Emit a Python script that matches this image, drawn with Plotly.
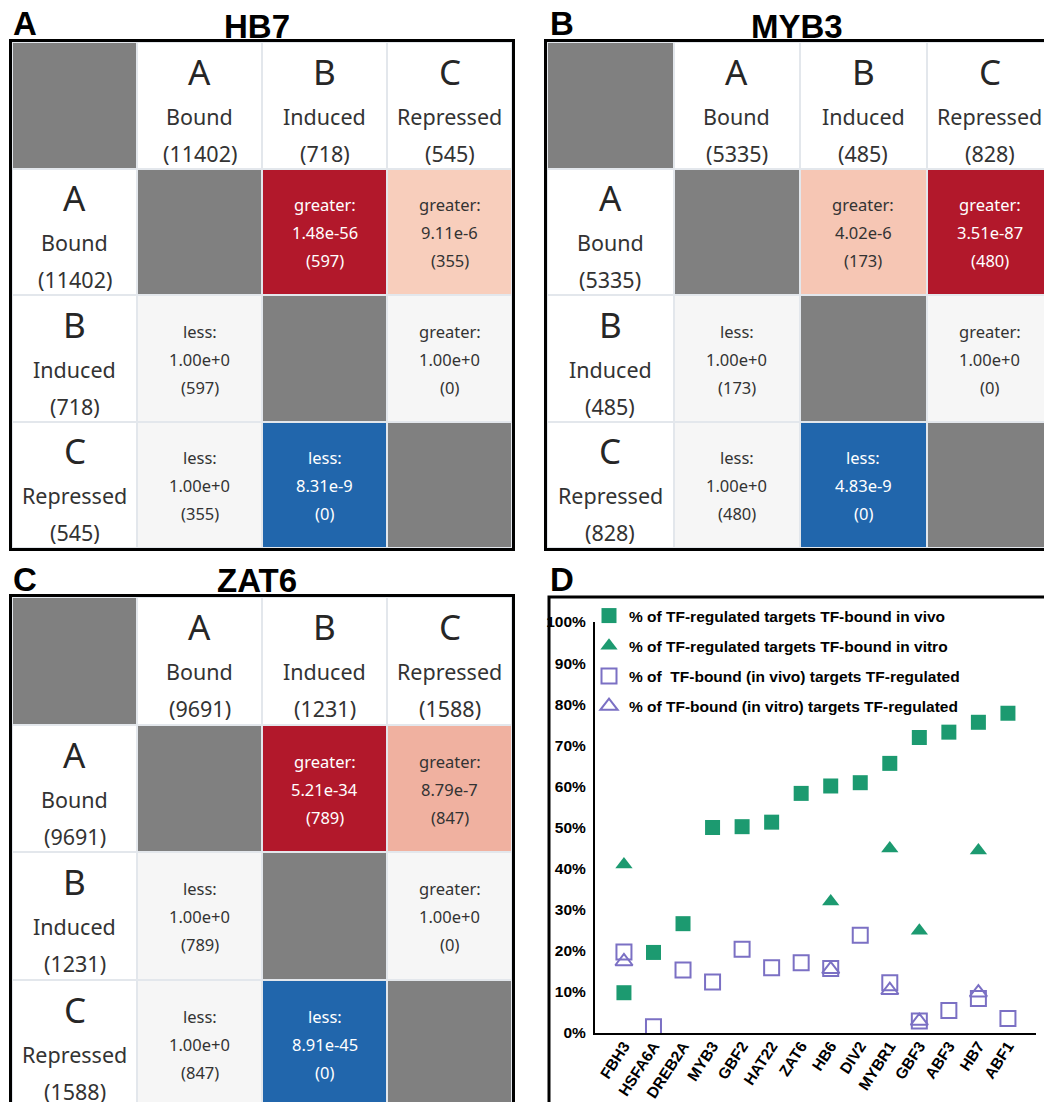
import math
import plotly.graph_objects as go

# ---------------- data: panels A-C (pairwise overlap tests) ----------------
row_letters = ["A", "B", "C"]
row_names = ["Bound", "Induced", "Repressed"]
tests = [["", "greater", "greater"],
         ["less", "", "greater"],
         ["less", "less", ""]]

hb7_counts = [11402, 718, 545]
hb7_pvals = [[None, 1.48e-56, 9.11e-6],
             [1.00e+0, None, 1.00e+0],
             [1.00e+0, 8.31e-9, None]]
hb7_overlap = [[None, 597, 355], [597, None, 0], [355, 0, None]]

myb3_counts = [5335, 485, 828]
myb3_pvals = [[None, 4.02e-6, 3.51e-87],
              [1.00e+0, None, 1.00e+0],
              [1.00e+0, 4.83e-9, None]]
myb3_overlap = [[None, 173, 480], [173, None, 0], [480, 0, None]]

zat6_counts = [9691, 1231, 1588]
zat6_pvals = [[None, 5.21e-34, 8.79e-7],
              [1.00e+0, None, 1.00e+0],
              [1.00e+0, 8.91e-45, None]]
zat6_overlap = [[None, 789, 847], [789, None, 0], [847, 0, None]]

# ---------------- data: panel D ----------------
tf_names = ["FBH3", "HSFA6A", "DREB2A", "MYB3", "GBF2", "HAT22", "ZAT6", "HB6",
            "DIV2", "MYBR1", "GBF3", "ABF3", "HB7", "ABF1"]
reg_bound_vivo = [9.8, 19.6, 26.6, 50.0, 50.2, 51.3, 58.3, 60.1, 60.9, 65.6, 71.9, 73.2, 75.6, 77.8]
reg_bound_vitro = [41.0, None, None, None, None, None, None, 32.0, None, 44.9, 24.9, None, 44.4, None]
bound_vivo_reg = [19.7, 1.5, 15.3, 12.4, 20.4, 15.9, 17.1, 15.7, 23.8, 12.2, 2.9, 5.5, 8.4, 3.5]
bound_vitro_reg = [17.4, None, None, None, None, None, None, 15.5, None, 10.4, 2.9, None, 9.8, None]

pct_ticks = [0, 10, 20, 30, 40, 50, 60, 70, 80, 90, 100]
pct_labels = ["0%", "10%", "20%", "30%", "40%", "50%", "60%", "70%", "80%", "90%", "100%"]

series_names = ["% of TF-regulated targets TF-bound in vivo",
                "% of TF-regulated targets TF-bound in vitro",
                "% of  TF-bound (in vivo) targets TF-regulated",
                "% of TF-bound (in vitro) targets TF-regulated"]

GREEN = "#1c9a70"
PURPLE = "#7b70c4"
CELL_FONT = "Noto Sans, Open Sans, sans-serif"
NARROW = "Liberation Sans Narrow, Arial Narrow, Liberation Sans, Arial, sans-serif"
BOLD_FONT = "Liberation Sans, Arial, sans-serif"

W, H = 1044, 1102


def fmt_p(p):
    m, e = f"{p:.2e}".split("e")
    ex = int(e)
    return f"{m}e{'+' if ex >= 0 else '-'}{abs(ex)}"


def px_x(px):
    return px / W


def px_y(py):
    return 1 - py / H


fig = go.Figure()
annotations = []

colorscale = [[0.0, "#2166ac"], [0.12, "#2166ac"], [0.5, "#f6f6f6"],
              [0.74, "#f9d3c1"], [0.80, "#f3b9a6"], [0.86, "#b2182b"], [1.0, "#b2182b"]]

panels = [
    ("x", "y", hb7_counts, hb7_pvals, hb7_overlap),
    ("x2", "y2", myb3_counts, myb3_pvals, myb3_overlap),
    ("x3", "y3", zat6_counts, zat6_pvals, zat6_overlap),
]

idx = [0, 1, 2, 3]
for xa, ya, counts, pvals, overlap in panels:
    frame = [[None] * 4 for _ in range(4)]
    data = [[None] * 4 for _ in range(4)]
    for r in range(4):
        for c in range(4):
            if r == 0 and c == 0:
                frame[r][c] = 0
            elif r == 0 or c == 0:
                frame[r][c] = 1
            elif r == c:
                frame[r][c] = 0
    for i in range(3):
        for j in range(3):
            if i == j:
                continue
            p = pvals[i][j]
            sgn = 1 if tests[i][j] == "greater" else -1
            score = 0.0 if p >= 1 else sgn * (-math.log10(p))
            data[i + 1][j + 1] = score
    fig.add_trace(go.Heatmap(z=frame, x=idx, y=idx, xaxis=xa, yaxis=ya,
                             colorscale=[[0, "#808080"], [1, "#ffffff"]], zmin=0, zmax=1,
                             showscale=False, xgap=2, ygap=2, hoverinfo="skip"))
    fig.add_trace(go.Heatmap(z=data, x=idx, y=idx, xaxis=xa, yaxis=ya,
                             colorscale=colorscale, zmin=-10, zmax=10,
                             showscale=False, xgap=2, ygap=2, hoverinfo="skip"))

    # header row / column texts
    for k in range(3):
        for (xx, yy) in [(k + 1, 0), (0, k + 1)]:
            annotations.append(dict(x=xx, y=yy, xref=xa, yref=ya, text=row_letters[k],
                                    showarrow=False, yshift=34,
                                    font=dict(family=CELL_FONT, size=35, color="#262626")))
            annotations.append(dict(x=xx, y=yy, xref=xa, yref=ya, text=row_names[k],
                                    showarrow=False, yshift=-11,
                                    font=dict(family=CELL_FONT, size=21.5, color="#333333")))
            annotations.append(dict(x=xx, y=yy, xref=xa, yref=ya, text=f"({counts[k]})",
                                    showarrow=False, yshift=-48,
                                    font=dict(family=CELL_FONT, size=21.5, color="#333333")))
    # cell texts
    for i in range(3):
        for j in range(3):
            if i == j:
                continue
            score = data[i + 1][j + 1]
            col = "#ffffff" if abs(score) >= 8 else "#333333"
            for txt, sh in [(tests[i][j] + ":", 27), (fmt_p(pvals[i][j]), -1),
                            (f"({overlap[i][j]})", -29)]:
                annotations.append(dict(x=j + 1, y=i + 1, xref=xa, yref=ya, text=txt,
                                        showarrow=False, yshift=sh,
                                        font=dict(family=CELL_FONT, size=16.5, color=col)))

# ---------------- panel D traces ----------------
fig.add_trace(go.Scatter(x=tf_names, y=reg_bound_vivo, mode="markers", name=series_names[0],
                         xaxis="x4", yaxis="y4", legendgroup="g1",
                         marker=dict(symbol="square", size=15, color=GREEN)))
fig.add_trace(go.Scatter(x=tf_names, y=reg_bound_vitro, mode="markers", name=series_names[1],
                         xaxis="x4", yaxis="y4", legendgroup="g2",
                         marker=dict(symbol="triangle-up", size=15, color=GREEN)))
fig.add_trace(go.Scatter(x=tf_names, y=bound_vivo_reg, mode="markers", name=series_names[2],
                         xaxis="x4", yaxis="y4", legendgroup="g3",
                         marker=dict(symbol="square-open", size=15, color=PURPLE,
                                     line=dict(width=2, color=PURPLE))))
fig.add_trace(go.Scatter(x=tf_names, y=bound_vitro_reg, mode="markers", name=series_names[3],
                         xaxis="x4", yaxis="y4", legendgroup="g4",
                         marker=dict(symbol="triangle-up-open", size=15, color=PURPLE,
                                     line=dict(width=2, color=PURPLE))))

# ---------------- titles ----------------
for letter, lx, cy in [("A", 11, 23), ("B", 548, 23), ("C", 11, 579), ("D", 548, 579)]:
    annotations.append(dict(x=px_x(lx), y=px_y(cy), xref="paper", yref="paper", text=letter,
                            xanchor="left", yanchor="middle", showarrow=False,
                            font=dict(family=BOLD_FONT, size=33, color="black", weight="bold")))
for title, cx, cy in [("HB7", 257, 26), ("MYB3", 797, 26), ("ZAT6", 257, 580)]:
    annotations.append(dict(x=px_x(cx), y=px_y(cy), xref="paper", yref="paper", text=title,
                            xanchor="center", yanchor="middle", showarrow=False,
                            font=dict(family=BOLD_FONT, size=33, color="black", weight="bold")))

hm_axis = dict(showticklabels=False, ticks="", showgrid=False, zeroline=False,
               showline=True, linecolor="black", linewidth=3, automargin=False)

fig.update_layout(
    width=W, height=H, margin=dict(l=0, r=0, t=0, b=0, autoexpand=False),
    paper_bgcolor="white", plot_bgcolor="#e3e7ec",
    showlegend=True,
    xaxis=dict(domain=[px_x(12), px_x(512)], range=[-0.5, 3.5], mirror=True, **hm_axis),
    yaxis=dict(domain=[px_y(548), px_y(42)], range=[3.5, -0.5], mirror=True, **hm_axis),
    xaxis2=dict(domain=[px_x(547), 1.0], range=[-0.5, -0.5 + 497 / 126.5], mirror=True,
                anchor="y2", **hm_axis),
    yaxis2=dict(domain=[px_y(548), px_y(42)], range=[3.5, -0.5], mirror=False,
                anchor="x2", **hm_axis),
    xaxis3=dict(domain=[px_x(12), px_x(512)], range=[-0.5, 3.5], mirror=False, side="top",
                anchor="y3", **hm_axis),
    yaxis3=dict(domain=[0.0, px_y(597)], range=[-0.5 + 505 / 127.5, -0.5], mirror=True,
                anchor="x3", **hm_axis),
    xaxis4=dict(domain=[px_x(595), px_x(1036)], type="category", range=[-0.98, 13.95],
                anchor="y4", showline=True, linecolor="black", linewidth=2, ticks="",
                showgrid=False, zeroline=False, tickangle=-57, automargin=False,
                ticklabelstandoff=-4,
                tickfont=dict(family=NARROW, size=15.5, color="black", weight="bold")),
    yaxis4=dict(domain=[px_y(1033), px_y(622)], range=[0, 100], anchor="x4",
                tickvals=pct_ticks, ticktext=pct_labels,
                showline=True, linecolor="black", linewidth=2, ticks="", showgrid=False,
                zeroline=False, ticklabelstandoff=4, automargin=False,
                tickfont=dict(family=NARROW, size=15.5, color="black", weight="bold")),
    legend=dict(x=px_x(589), y=px_y(599), xanchor="left", yanchor="top",
                bgcolor="rgba(0,0,0,0)", tracegroupgap=7,
                font=dict(family=NARROW, size=15.5, color="black", weight="bold")),
    annotations=annotations,
    shapes=[
        dict(type="rect", xref="x4 domain", yref="y4 domain", x0=0, x1=1, y0=0, y1=1,
             fillcolor="white", line=dict(width=0), layer="below"),
        dict(type="rect", xref="paper", yref="paper", x0=px_x(549), x1=1.05,
             y0=-0.05, y1=px_y(597), line=dict(color="black", width=3),
             fillcolor="rgba(0,0,0,0)", layer="above"),
    ],
)

fig.write_html("out.html", config={"displayModeBar": False},
               post_script="document.body.style.margin='0px';")
